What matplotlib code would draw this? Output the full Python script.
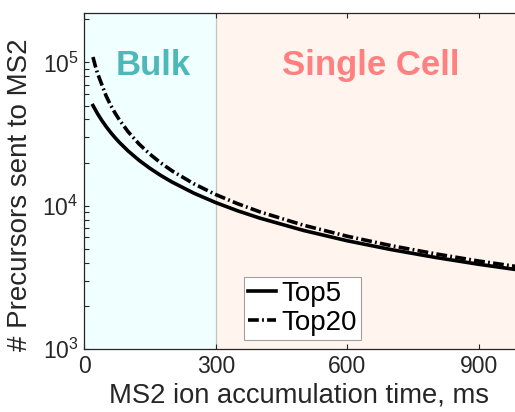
import matplotlib
matplotlib.use("Agg")
import matplotlib.pyplot as plt
from matplotlib.ticker import LogLocator, NullFormatter

# values
acc_time = [20, 30, 40, 50, 60, 70, 80, 100, 125, 150, 175, 200, 250, 300,
            350, 400, 500, 600, 700, 800, 900, 1000]
top5 = [50000, 44080, 39420, 35650, 32530, 29920, 27700, 24110, 20750, 18220,
        16230, 14640, 12230, 10510, 9210, 8200, 6720, 5690, 4940, 4360, 3900, 3530]
top20 = [109000, 84490, 68990, 58290, 50470, 44500, 39790, 32840, 26950, 22860,
         19840, 17530, 14220, 11960, 10320, 9070, 7310, 6120, 5260, 4620, 4110, 3710]
top20_head_t = [20, 25, 30]
top20_head = [109000, 95190, 84490]

regions = ["Bulk", "Single Cell"]
region_bounds = [(0, 300), (300, 1000)]
region_label_x = [157, 653]
xticks = [0, 300, 600, 900]

plt.rcParams["font.family"] = ["Liberation Sans", "DejaVu Sans"]
plt.rcParams["mathtext.fontset"] = "custom"
plt.rcParams["mathtext.rm"] = "Liberation Sans"
plt.rcParams["mathtext.it"] = "Liberation Sans:italic"
plt.rcParams["mathtext.bf"] = "Liberation Sans:bold"

dark = "#262626"

fig = plt.figure(figsize=(5.15, 4.12), dpi=100)
ax = fig.add_axes([0.1635, 0.1529, 0.8515, 0.8148])

ax.axvspan(*region_bounds[0], color="#F0FFFF", lw=0, zorder=0)
ax.axvspan(*region_bounds[1], color="#FFF5EE", lw=0, zorder=0)
ax.axvline(300, color="#c4c4c4", lw=0.9, zorder=1)

# merge the extra early point for the dash-dot curve
t20 = top20_head_t + acc_time[3:]
v20 = top20_head + top20[3:]

ax.plot(acc_time, top5, color="black", lw=2.6, label="Top5", zorder=3)
ax.plot(t20, v20, color="black", lw=2.6, ls=(0, (3.0, 0.9, 0.5, 0.9)),
        dash_capstyle="butt", label="Top20", zorder=3)

ax.set_yscale("log")
ax.set_xlim(0, 1000)
ax.set_ylim(1e3, 2.2e5)
ax.set_xticks(xticks)
ax.yaxis.set_major_locator(LogLocator(base=10, numticks=10))
ax.yaxis.set_minor_locator(LogLocator(base=10, subs=range(2, 10), numticks=20))
ax.yaxis.set_minor_formatter(NullFormatter())

ax.tick_params(which="both", direction="in", top=True, right=True,
               length=3.3, width=0.8, color=dark, labelcolor=dark,
               labelsize=16.5, pad=4)
for s in ax.spines.values():
    s.set_color(dark)
    s.set_linewidth(0.9)

ax.set_xlabel("MS2 ion accumulation time, ms", fontsize=19.7, color=dark,
              labelpad=2)
ax.set_ylabel("# Precursors sent to MS2", fontsize=20, color=dark)
ax.yaxis.set_label_coords(-0.117, 0.459)
ax.xaxis.set_label_coords(0.49, -0.1)

tr = ax.get_xaxis_transform()
ax.text(region_label_x[0], 0.815, regions[0], transform=tr, ha="center",
        va="baseline", fontsize=25, fontweight="bold", color="#4DB8B8")
ax.text(region_label_x[1], 0.815, regions[1], transform=tr, ha="center",
        va="baseline", fontsize=25, fontweight="bold", color="#FF8080")

leg = ax.legend(loc="lower left", bbox_to_anchor=(0.364, 0.027),
                borderaxespad=0, fontsize=20, fancybox=False, framealpha=1,
                edgecolor="#a0a0a0", handlelength=1.0, handletextpad=0.2,
                borderpad=0.15, labelspacing=0.1)
leg.get_frame().set_linewidth(0.8)

fig.savefig("out.png", dpi=100)
